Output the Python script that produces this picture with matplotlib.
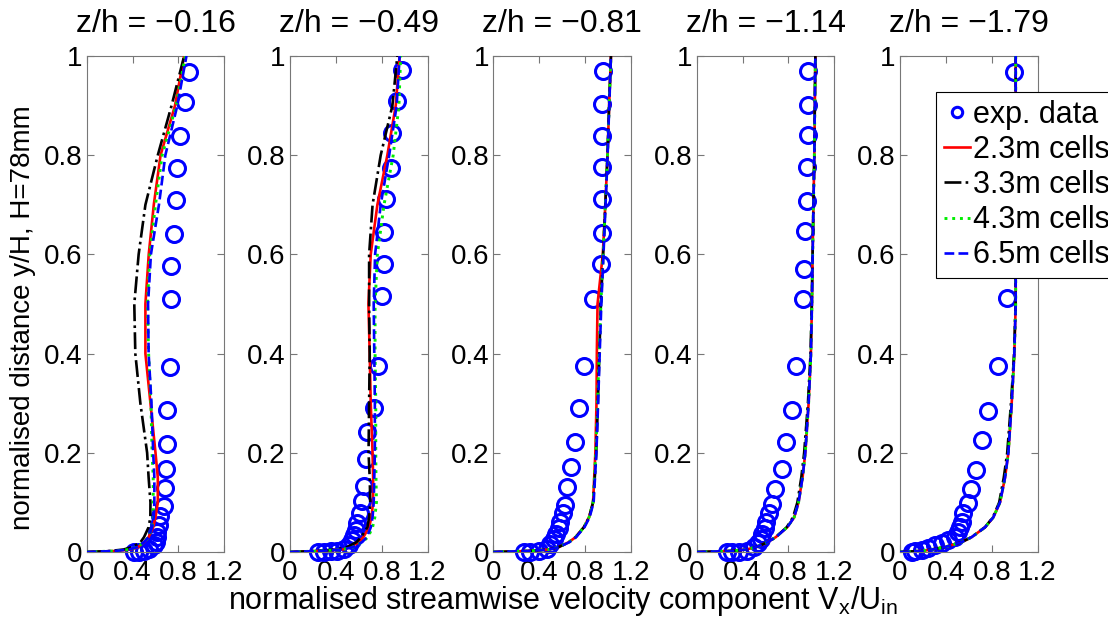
import matplotlib
matplotlib.use("Agg")
import matplotlib.pyplot as plt

# ---- data -------------------------------------------------------------
titles = ["z/h = \u22120.16", "z/h = \u22120.49", "z/h = \u22120.81",
          "z/h = \u22121.14", "z/h = \u22121.79"]

# wall-normal stations of the simulated profiles
y_sim = [0, 0.002, 0.005, 0.01, 0.02, 0.03, 0.05, 0.07, 0.1, 0.15, 0.2,
         0.3, 0.4, 0.5, 0.6, 0.7, 0.8, 0.9, 1.0]

# experimental profiles (Vx/Uin, y/H) per station
exp_x = [
    [0.894, 0.856, 0.815, 0.786, 0.777, 0.762, 0.738, 0.738, 0.727, 0.697,
     0.697, 0.688, 0.680, 0.674, 0.638, 0.630, 0.615, 0.609, 0.600, 0.585,
     0.541, 0.497, 0.453, 0.409],
    [0.979, 0.936, 0.892, 0.878, 0.835, 0.820, 0.820, 0.805, 0.770, 0.733,
     0.675, 0.666, 0.646, 0.626, 0.609, 0.588, 0.574, 0.559, 0.544, 0.516,
     0.472, 0.414, 0.357, 0.298, 0.240],
    [0.958, 0.952, 0.947, 0.952, 0.947, 0.947, 0.938, 0.870, 0.791, 0.747,
     0.712, 0.674, 0.645, 0.624, 0.607, 0.586, 0.571, 0.548, 0.527, 0.498,
     0.469, 0.396, 0.322, 0.264],
    [0.967, 0.967, 0.967, 0.958, 0.958, 0.947, 0.938, 0.923, 0.865, 0.830,
     0.782, 0.742, 0.683, 0.659, 0.630, 0.607, 0.595, 0.571, 0.557, 0.536,
     0.498, 0.440, 0.367, 0.308, 0.264],
    [0.997, 0.995, 0.990, 0.988, 0.985, 0.980, 0.975, 0.931, 0.853, 0.771,
     0.719, 0.661, 0.620, 0.591, 0.553, 0.539, 0.524, 0.509, 0.480, 0.422,
     0.364, 0.306, 0.247, 0.189, 0.131, 0.102],
]
exp_y = [
    [0.968, 0.907, 0.838, 0.775, 0.709, 0.642, 0.576, 0.510, 0.373, 0.286,
     0.218, 0.167, 0.130, 0.093, 0.072, 0.055, 0.041, 0.031, 0.020, 0.014,
     0.007, 0.003, 0.001, 0.0],
    [0.971, 0.910, 0.845, 0.775, 0.711, 0.646, 0.581, 0.517, 0.375, 0.290,
     0.242, 0.188, 0.133, 0.102, 0.078, 0.058, 0.044, 0.034, 0.024, 0.014,
     0.007, 0.003, 0.002, 0.001, 0.0],
    [0.970, 0.903, 0.838, 0.777, 0.711, 0.644, 0.581, 0.510, 0.375, 0.291,
     0.222, 0.172, 0.132, 0.095, 0.078, 0.061, 0.048, 0.037, 0.027, 0.017,
     0.007, 0.003, 0.001, 0.0],
    [0.970, 0.902, 0.840, 0.777, 0.707, 0.648, 0.571, 0.511, 0.375, 0.286,
     0.222, 0.168, 0.127, 0.097, 0.078, 0.061, 0.048, 0.037, 0.027, 0.018,
     0.010, 0.003, 0.001, 0.0, 0.0],
    [0.968, 0.907, 0.840, 0.777, 0.711, 0.644, 0.580, 0.513, 0.375, 0.284,
     0.225, 0.166, 0.127, 0.099, 0.078, 0.061, 0.051, 0.041, 0.031, 0.024,
     0.018, 0.014, 0.009, 0.005, 0.003, 0.001],
]

# simulated profiles, one list per station for each mesh
vx_2p3m = [
    [0, 0.25, 0.38, 0.45, 0.50, 0.54, 0.58, 0.60, 0.62, 0.62, 0.60, 0.556,
     0.512, 0.512, 0.541, 0.585, 0.644, 0.77, 0.85],
    [0, 0.25, 0.46, 0.53, 0.60, 0.64, 0.69, 0.71, 0.725, 0.725, 0.72, 0.704,
     0.695, 0.684, 0.704, 0.762, 0.849, 0.922, 0.956],
    [0, 0.30, 0.483, 0.571, 0.66, 0.718, 0.79, 0.835, 0.87, 0.88, 0.89, 0.90,
     0.903, 0.909, 0.955, 0.977, 0.996, 1.01, 1.026],
    [0, 0.30, 0.43, 0.52, 0.62, 0.69, 0.79, 0.85, 0.888, 0.923, 0.947, 0.976,
     0.996, 1.005, 1.011, 1.018, 1.026, 1.03, 1.035],
    [0, 0.18, 0.277, 0.393, 0.538, 0.625, 0.742, 0.814, 0.872, 0.916, 0.945,
     0.974, 0.997, 1.009, 1.009, 1.009, 1.009, 1.009, 1.009],
]
vx_3p3m = [
    [0, 0.20, 0.32, 0.40, 0.47, 0.50, 0.54, 0.555, 0.556, 0.54, 0.527, 0.468,
     0.424, 0.415, 0.453, 0.512, 0.62, 0.74, 0.85],
    [0, 0.22, 0.40, 0.50, 0.58, 0.62, 0.675, 0.69, 0.70, 0.695, 0.685, 0.69,
     0.695, 0.69, 0.69, 0.72, 0.791, 0.893, 0.936],
    [0, 0.30, 0.483, 0.571, 0.66, 0.718, 0.79, 0.835, 0.87, 0.885, 0.898,
     0.912, 0.925, 0.938, 0.958, 0.977, 0.996, 1.01, 1.026],
    [0, 0.30, 0.43, 0.52, 0.62, 0.69, 0.785, 0.84, 0.878, 0.912, 0.937,
     0.97, 0.993, 1.003, 1.011, 1.018, 1.026, 1.03, 1.035],
    [0, 0.18, 0.277, 0.393, 0.538, 0.625, 0.742, 0.81, 0.865, 0.905, 0.935,
     0.968, 0.995, 1.008, 1.009, 1.009, 1.009, 1.009, 1.009],
]
vx_4p3m = [
    [0, 0.24, 0.37, 0.44, 0.50, 0.54, 0.57, 0.58, 0.58, 0.58, 0.57, 0.56,
     0.54, 0.53, 0.55, 0.60, 0.658, 0.78, 0.86],
    [0, 0.25, 0.46, 0.55, 0.63, 0.68, 0.72, 0.74, 0.754, 0.75, 0.748, 0.748,
     0.742, 0.742, 0.762, 0.82, 0.90, 0.95, 0.965],
    [0, 0.30, 0.483, 0.571, 0.66, 0.718, 0.79, 0.835, 0.87, 0.882, 0.894,
     0.909, 0.923, 0.938, 0.958, 0.977, 0.996, 1.01, 1.026],
    [0, 0.30, 0.43, 0.52, 0.62, 0.69, 0.79, 0.85, 0.888, 0.923, 0.947, 0.976,
     0.996, 1.005, 1.011, 1.018, 1.026, 1.03, 1.035],
    [0, 0.18, 0.277, 0.393, 0.538, 0.625, 0.742, 0.814, 0.872, 0.916, 0.945,
     0.974, 0.997, 1.009, 1.009, 1.009, 1.009, 1.009, 1.009],
]
vx_6p5m = [
    [0, 0.24, 0.37, 0.44, 0.50, 0.54, 0.57, 0.585, 0.59, 0.59, 0.58, 0.565,
     0.54, 0.535, 0.56, 0.63, 0.686, 0.79, 0.87],
    [0, 0.25, 0.46, 0.55, 0.63, 0.67, 0.705, 0.72, 0.73, 0.735, 0.74, 0.74,
     0.735, 0.73, 0.742, 0.791, 0.865, 0.93, 0.956],
    [0, 0.30, 0.485, 0.575, 0.665, 0.722, 0.795, 0.84, 0.875, 0.887, 0.899,
     0.914, 0.928, 0.942, 0.961, 0.979, 0.997, 1.011, 1.026],
    [0, 0.30, 0.43, 0.52, 0.62, 0.69, 0.79, 0.85, 0.888, 0.923, 0.947, 0.976,
     0.996, 1.005, 1.011, 1.018, 1.026, 1.03, 1.035],
    [0, 0.18, 0.277, 0.393, 0.538, 0.625, 0.742, 0.814, 0.872, 0.916, 0.945,
     0.974, 0.997, 1.009, 1.009, 1.009, 1.009, 1.009, 1.009],
]

series_labels = ["exp. data", "2.3m cells", "3.3m cells", "4.3m cells",
                 "6.5m cells"]
x_ticks = [0, 0.4, 0.8, 1.2]
x_ticklabels = ["0", "0.4", "0.8", "1.2"]
y_ticks = [0, 0.2, 0.4, 0.6, 0.8, 1.0]
y_ticklabels = ["0", "0.2", "0.4", "0.6", "0.8", "1"]

# ---- style ------------------------------------------------------------
base_font = "Liberation Sans"
plt.rcParams["font.family"] = [base_font, "DejaVu Sans"]
plt.rcParams["mathtext.fontset"] = "custom"
plt.rcParams["mathtext.rm"] = base_font
plt.rcParams["mathtext.it"] = base_font
FS_TICK = 20
FS_LABEL = 22
FS_TITLE = 23
FS_LEG = 22

W, H = 1108, 627
fig = plt.figure(figsize=(W / 100, H / 100), dpi=100)

ax_left = [86.7, 290.0, 493.3, 696.7, 900.0]
ax_w, ax_top, ax_bot = 137.6, 56, 552

line_styles = [
    dict(color="#ff0000", ls="-", lw=1.9),
    dict(color="#000000", ls="-.", lw=1.9),
    dict(color="#00ee00", ls=":", lw=2.1),
    dict(color="#0000ff", ls="--", lw=1.9),
]
sims = [vx_2p3m, vx_3p3m, vx_4p3m, vx_6p5m]

handles = []
for i in range(5):
    ax = fig.add_axes([ax_left[i] / W, 1 - ax_bot / H, ax_w / W,
                       (ax_bot - ax_top) / H])
    h0, = ax.plot(exp_x[i], exp_y[i], "o", mfc="none", mec="#0000ff",
                  mew=2.2, ms=11.5, clip_on=False, zorder=2)
    hs = [h0]
    for sim, st in zip(sims, line_styles):
        h, = ax.plot(sim[i], y_sim, zorder=3, **st)
        hs.append(h)
    if i == 0:
        handles = hs
    ax.set_xlim(0, 1.2)
    ax.set_ylim(0, 1)
    ax.set_xticks(x_ticks)
    ax.set_xticklabels(x_ticklabels)
    ax.set_yticks(y_ticks)
    ax.set_yticklabels(y_ticklabels)
    ax.tick_params(direction="in", length=5, width=0.8, color="#777777",
                   top=True, right=True, labelsize=FS_TICK)
    ax.tick_params(axis="x", pad=6)
    ax.tick_params(axis="y", pad=3)
    for sp in ax.spines.values():
        sp.set_color("#777777")
        sp.set_linewidth(0.8)
    fig.text((ax_left[i] + ax_w / 2) / W, 1 - 32 / H, titles[i],
             ha="center", va="baseline", fontsize=FS_TITLE)

fig.text(23 / W, 1 - 318 / H, "normalised distance y/H, H=78mm",
         rotation=90, ha="center", va="center", fontsize=20)
fig.text(563 / W, 1 - 609 / H,
         r"normalised streamwise velocity component V$_\mathregular{x}$/U$_\mathregular{in}$",
         ha="center", va="baseline", fontsize=FS_LABEL)

leg = fig.legend(handles, series_labels, loc="upper left",
                 bbox_to_anchor=(936 / W, 1 - 92 / H), fontsize=FS_LEG,
                 frameon=True, fancybox=False, framealpha=1,
                 edgecolor="#000000", handlelength=0.85, handletextpad=0.12,
                 labelspacing=0.17, borderpad=0.25, borderaxespad=0,
                 markerscale=0.65)
leg.get_frame().set_linewidth(0.8)
leg.set_zorder(10)

fig.savefig("out.png", dpi=100)
